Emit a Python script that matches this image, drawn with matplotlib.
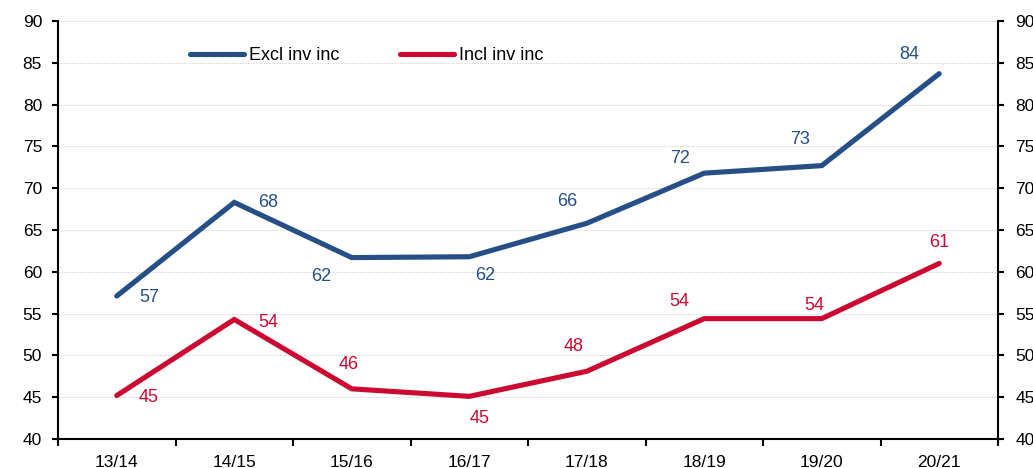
import matplotlib
matplotlib.use("Agg")
import matplotlib.pyplot as plt
import numpy as np

plt.rcParams['font.family'] = ['Liberation Sans', 'DejaVu Sans']

categories = ["13/14", "14/15", "15/16", "16/17", "17/18", "18/19", "19/20", "20/21"]
excl_inv_inc = [57.1, 68.3, 61.7, 61.8, 65.8, 71.8, 72.7, 83.7]
incl_inv_inc = [45.2, 54.3, 46.0, 45.1, 48.1, 54.4, 54.4, 61.0]
excl_labels = ["57", "68", "62", "62", "66", "72", "73", "84"]
incl_labels = ["45", "54", "46", "45", "48", "54", "54", "61"]

BLUE = "#254F86"
RED = "#CC0A31"

# label offsets in pixels (dx, dy) relative to point, dy positive up
excl_off = [(32, -1), (34, 0), (-31, -19), (16, -19), (-19, 22), (-24, 15), (-22, 26), (-30, 19)]
incl_off = [(32, -2), (34, -3), (-3, 24), (10, -22), (-13, 25), (-25, 17), (-7, 13), (0, 21)]

fig = plt.figure(figsize=(10.33, 4.68), dpi=100)
ax = fig.add_axes([58/1033, 1-439/468, 940/1033, 418/468])

x = np.arange(len(categories))
ax.plot(x, excl_inv_inc, color=BLUE, lw=3.7, solid_capstyle='round', solid_joinstyle='miter', label="Excl inv inc")
ax.plot(x, incl_inv_inc, color=RED, lw=3.7, solid_capstyle='round', solid_joinstyle='miter', label="Incl inv inc")

for xi, v, lab, off in zip(x, excl_inv_inc, excl_labels, excl_off):
    ax.annotate(lab, (xi, v), xytext=off, textcoords='offset pixels', ha='center', va='center',
                color=BLUE, fontsize=13)
for xi, v, lab, off in zip(x, incl_inv_inc, incl_labels, incl_off):
    ax.annotate(lab, (xi, v), xytext=off, textcoords='offset pixels', ha='center', va='center',
                color=RED, fontsize=13)

ax.set_xlim(-0.5, len(categories) - 0.5)
ax.set_ylim(40, 90)
ax.set_yticks(np.arange(40, 91, 5))
ax.yaxis.grid(True, color='#d4d4d4', linestyle=(0, (1.2, 1.2)), lw=0.8)
ax.set_axisbelow(True)

ax.set_xticks(np.arange(-0.5, len(categories), 1.0))
ax.set_xticklabels([])
ax.set_xticks(x, minor=True)
ax.set_xticklabels(categories, minor=True)
ax.tick_params(axis='x', which='major', direction='out', length=5, width=1.5)
ax.tick_params(axis='x', which='minor', length=0, pad=11.5, labelsize=12.5)
ax.tick_params(axis='y', direction='out', length=4.5, width=1.5, pad=7, labelsize=12.5)

for s in ['left', 'bottom']:
    ax.spines[s].set_linewidth(1.5)
ax.spines['top'].set_visible(False)
ax.spines['right'].set_visible(False)

ax2 = ax.twinx()
ax2.set_ylim(40, 90)
ax2.set_yticks(np.arange(40, 91, 5))
ax2.tick_params(axis='y', direction='out', length=4.5, width=1.5, pad=8, labelsize=12.5)
ax2.spines['right'].set_linewidth(1.5)
for s in ['left', 'top', 'bottom']:
    ax2.spines[s].set_visible(False)

leg = ax.legend(loc='center left', bbox_to_anchor=(132/940, (439 - 55.5)/418), ncol=2, frameon=False,
                fontsize=13, handlelength=3.0, handletextpad=0.28, columnspacing=3.35,
                borderaxespad=0, borderpad=0)

fig.savefig("out.png", dpi=100)
